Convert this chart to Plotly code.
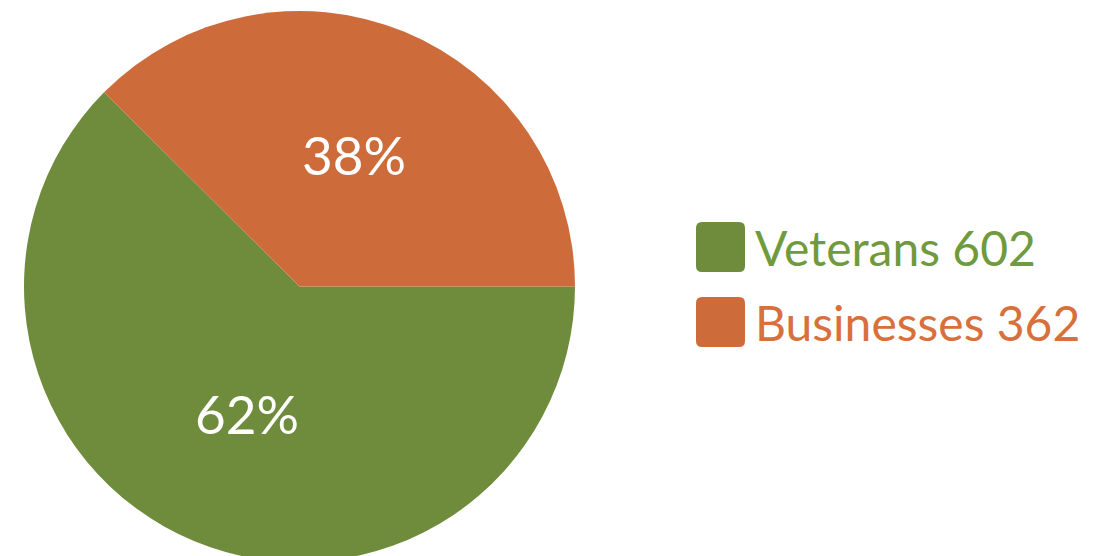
import plotly.graph_objects as go

labels = ["Veterans", "Businesses"]
values = [602, 362]
colors = ["#6f8c3d", "#cd6c3a"]
text_colors = ["#6f9a3d", "#d8703c"]

W, H = 1109, 556
OFF = 8  # page body margin of the html output

fig = go.Figure(
    go.Pie(
        labels=labels,
        values=values,
        marker=dict(colors=colors, line=dict(width=0)),
        sort=False,
        direction="clockwise",
        rotation=90,
        textinfo="percent",
        texttemplate="%{percent:.0%}",
        textposition="inside",
        insidetextorientation="horizontal",
        textfont=dict(family="Lato", size=53, color="white"),
        showlegend=False,
        hoverinfo="label+value+percent",
        domain=dict(x=[(24 - OFF) / W, (575 - OFF) / W], y=[0, 1]),
    )
)

# custom legend: big rounded squares + coloured text
shapes = []
annotations = []
for i, (lab, val) in enumerate(zip(labels, values)):
    y0 = 222 - OFF + i * 75
    x0, x1 = 696 - OFF, 745 - OFF
    y1 = y0 + 50
    r = 6
    path = (
        f"M{x0 + r},{y0} L{x1 - r},{y0} Q{x1},{y0} {x1},{y0 + r} "
        f"L{x1},{y1 - r} Q{x1},{y1} {x1 - r},{y1} L{x0 + r},{y1} "
        f"Q{x0},{y1} {x0},{y1 - r} L{x0},{y0 + r} Q{x0},{y0} {x0 + r},{y0} Z"
    )
    shapes.append(
        dict(type="path", xref="x", yref="y", path=path, fillcolor=colors[i], line=dict(width=0), layer="above")
    )
    annotations.append(
        dict(
            x=753 - OFF,
            y=(y0 + y1) / 2,
            xref="x",
            yref="y",
            text=f"{lab} {val}",
            showarrow=False,
            xanchor="left",
            yanchor="middle",
            font=dict(family="Lato", size=48, color=text_colors[i]),
        )
    )

fig.update_layout(
    width=W,
    height=H,
    margin=dict(l=0, r=0, t=9 - OFF, b=0),
    paper_bgcolor="white",
    plot_bgcolor="rgba(0,0,0,0)",
    xaxis=dict(range=[0, W], visible=False, fixedrange=True, domain=[0, 1]),
    yaxis=dict(range=[H, 9 - OFF], visible=False, fixedrange=True, domain=[0, 1]),
    shapes=shapes,
    annotations=annotations,
)

fig.write_html("out.html")
